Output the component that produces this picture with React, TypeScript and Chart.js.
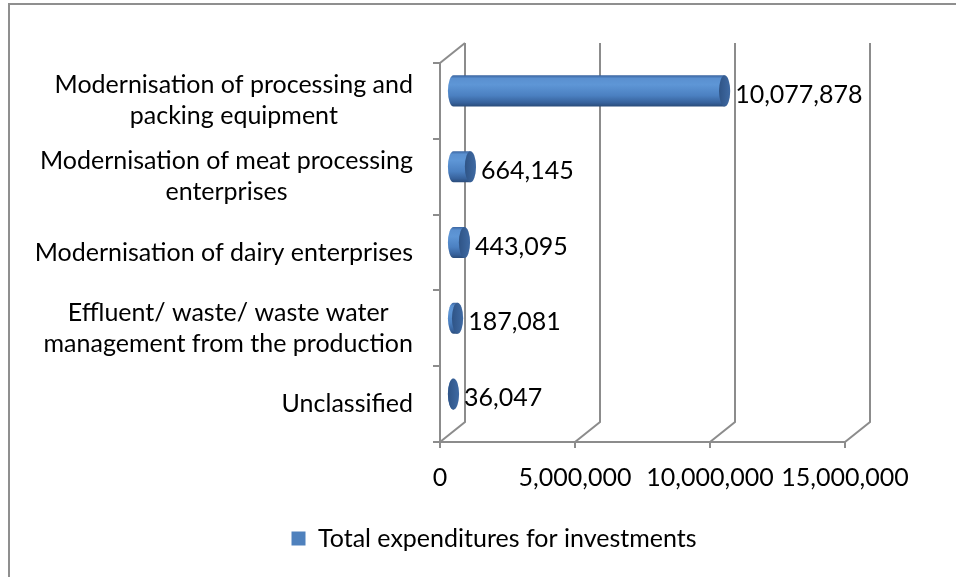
import { useEffect, useRef } from "react";
import { Chart, registerables } from "chart.js";

Chart.register(...registerables);

// ---- data ----
const categories: string[][] = [
  ["Modernisation of processing and", "packing equipment"],
  ["Modernisation of meat processing", "enterprises"],
  ["Modernisation of dairy enterprises"],
  ["Effluent/ waste/ waste water", "management from the production"],
  ["Unclassified"],
];
const values: number[] = [10077878, 664145, 443095, 187081, 36047];
const seriesName = "Total expenditures for investments";
const xMin = 0;
const xMax = 15000000;
const xStep = 5000000;

// ---- style ----
const FONT = "Lato, Carlito, Calibri, sans-serif";
const FONT_SIZE = 25;
const DX = 25;
const DY = 20;
const GRID = "#8c8c8c";
const fmt = (v: number) => Number(v).toLocaleString("en-US");

const threeD = {
  id: "threeD",
  beforeDatasetsDraw(chart: any) {
    const { ctx, chartArea: a, scales } = chart;
    const x = scales.x;
    const y = scales.y;
    ctx.save();
    ctx.strokeStyle = GRID;
    ctx.lineWidth = 2;
    ctx.lineJoin = "miter";
    // back wall verticals + floor diagonals
    x.ticks.forEach((t: any) => {
      const px = x.getPixelForValue(t.value);
      ctx.beginPath();
      ctx.moveTo(px, a.bottom);
      ctx.lineTo(px + DX, a.bottom - DY);
      ctx.lineTo(px + DX, a.top - DY);
      ctx.stroke();
    });
    // side wall top edge
    const x0 = x.getPixelForValue(xMin);
    ctx.beginPath();
    ctx.moveTo(x0, a.top);
    ctx.lineTo(x0 + DX, a.top - DY);
    ctx.stroke();

    // cylinders
    const meta = chart.getDatasetMeta(0);
    meta.data.forEach((el: any, i: number) => {
      const p = el.getProps(["x", "y", "base", "height"], true);
      const r = p.height / 2;
      const rx = r * 0.36;
      const cy = p.y - DY / 2;
      const xs = p.base + DX / 2;
      const xe = p.x + DX / 2;
      const g = ctx.createLinearGradient(0, cy - r, 0, cy + r);
      g.addColorStop(0, "#3a64a0");
      g.addColorStop(0.1, "#5a90d0");
      g.addColorStop(0.3, "#5e96d6");
      g.addColorStop(0.65, "#4b80c1");
      g.addColorStop(0.88, "#37629c");
      g.addColorStop(1, "#2a4c7a");
      ctx.beginPath();
      ctx.moveTo(xe, cy - r);
      ctx.lineTo(xs, cy - r);
      ctx.ellipse(xs, cy, rx, r, 0, -Math.PI / 2, Math.PI / 2, true);
      ctx.lineTo(xe, cy + r);
      ctx.closePath();
      ctx.fillStyle = g;
      ctx.fill();
      const cg = ctx.createLinearGradient(xe - rx, 0, xe + rx, 0);
      cg.addColorStop(0, "#2f5486");
      cg.addColorStop(1, "#3f6aa3");
      ctx.beginPath();
      ctx.ellipse(xe, cy, rx, r, 0, 0, Math.PI * 2);
      ctx.fillStyle = cg;
      ctx.fill();
      // value label
      ctx.fillStyle = "#000";
      ctx.font = `${FONT_SIZE}px ${FONT}`;
      ctx.textAlign = "left";
      ctx.textBaseline = "alphabetic";
      ctx.fillText(fmt(values[i]), xe + rx + 5, cy + 12);
    });

    // category labels (right-aligned blocks, centred lines)
    ctx.fillStyle = "#000";
    ctx.font = `${FONT_SIZE}px ${FONT}`;
    ctx.textAlign = "center";
    ctx.textBaseline = "middle";
    const LH = 31;
    const rightEdge = y.right - 27;
    categories.forEach((lines, i) => {
      const py = y.getPixelForValue(i);
      const w = Math.max(...lines.map((l) => ctx.measureText(l).width));
      const cx = rightEdge - w / 2;
      lines.forEach((l, j) => {
        ctx.fillText(l, cx, py + (j - (lines.length - 1) / 2) * LH);
      });
    });
    ctx.restore();
    return false;
  },
};

export default function App() {
  const ref = useRef<HTMLCanvasElement | null>(null);
  useEffect(() => {
    if (!ref.current) return;
    Chart.defaults.font.family = FONT;
    const chart = new Chart(ref.current, {
      type: "bar",
      data: {
        labels: categories,
        datasets: [
          {
            label: seriesName,
            data: values,
            backgroundColor: "#4f81bd",
            borderWidth: 0,
            categoryPercentage: 1,
            barPercentage: 0.41,
          },
        ],
      },
      options: {
        indexAxis: "y",
        responsive: false,
        animation: false,
        layout: { padding: { left: 143, right: 111, top: 63, bottom: 16 } },
        plugins: {
          legend: {
            position: "bottom",
            labels: {
              font: { size: FONT_SIZE, family: FONT },
              color: "#000",
              boxWidth: 14,
              boxHeight: 14,
              padding: 10,
            },
          },
          tooltip: { enabled: false },
        },
        scales: {
          x: {
            type: "linear",
            position: "bottom",
            min: xMin,
            max: xMax,
            afterFit: (s: any) => {
              s.height = 74;
            },
            ticks: {
              stepSize: xStep,
              font: { size: FONT_SIZE, family: FONT },
              color: "#000",
              padding: 15,
              callback: (v: any) => fmt(v),
            },
            grid: {
              drawOnChartArea: false,
              drawTicks: true,
              tickLength: 6,
              color: GRID,
              lineWidth: 2,
            },
            border: { display: true, color: GRID, width: 2 },
          },
          y: {
            type: "category",
            position: "left",
            afterFit: (s: any) => {
              s.width = 440 - 143;
            },
            ticks: { display: false },
            grid: {
              drawOnChartArea: false,
              drawTicks: true,
              tickLength: 7,
              offset: true,
              color: GRID,
              lineWidth: 2,
            },
            border: { display: true, color: GRID, width: 2 },
          },
        },
      },
      plugins: [threeD],
    } as any);
    return () => chart.destroy();
  }, []);

  return (
    <div
      style={{
        position: "fixed",
        left: 0,
        top: 0,
        width: 956,
        height: 577,
        overflow: "hidden",
        background: "#fff",
      }}
    >
      <div
        style={{
          position: "absolute",
          left: 8,
          top: 3,
          width: 1200,
          height: 1200,
          borderTop: "2px solid #8f8f8f",
          borderLeft: "2px solid #8f8f8f",
        }}
      />
      <canvas
        ref={ref}
        width={956}
        height={577}
        style={{ position: "absolute", left: 0, top: 0, display: "block" }}
      />
    </div>
  );
}
